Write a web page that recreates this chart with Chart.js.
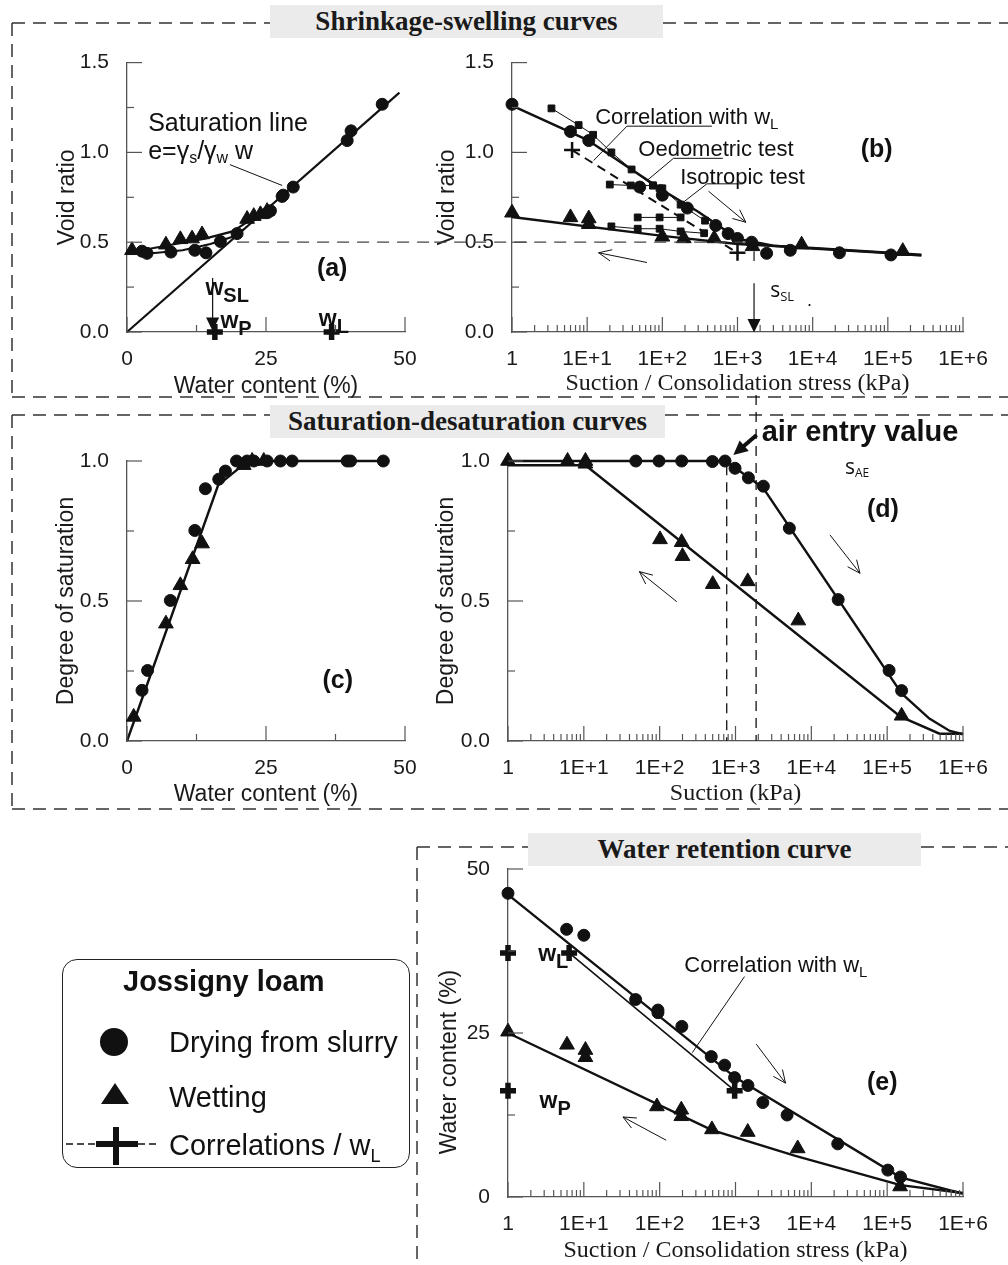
<!DOCTYPE html>
<html>
<head>
<meta charset="utf-8">
<title>Jossigny loam</title>
<script src="https://cdn.jsdelivr.net/npm/chart.js@4.4.0/dist/chart.umd.min.js"></script>
<style>
  body { margin: 0; background: #fff; }
  #page { position: relative; width: 1008px; height: 1265px; overflow: hidden;
          font-family: "Liberation Sans", Arial, sans-serif; color: #111; }
  #page canvas { position: absolute; }
  #deco { left: 0; top: 0; z-index: 0; }
  .plot { z-index: 1; }
  .ttl { position: absolute; z-index: 2; background: #ebebeb; color: #1a1a1a; text-align: center;
         font: bold 27px "Liberation Serif", "Times New Roman", serif; line-height: 33px; height: 33px; }
  #legend { position: absolute; left: 62px; top: 959px; width: 346px; height: 207px; z-index: 2;
            border: 1.5px solid #222; border-radius: 15px; background: #fff; }
  #legend .hd { position: absolute; left: 60px; top: 3px; font: bold 29px "Liberation Sans", Arial, sans-serif; line-height: 36px; }
  #legend .row { position: absolute; left: 106px; font-size: 29px; line-height: 34px; white-space: nowrap; }
  #legend sub { font-size: 18px; vertical-align: -7px; line-height: 0; }
  #legend svg { position: absolute; left: 0; top: 0; }
</style>
</head>
<body>
<div id="page">
  <canvas id="deco" width="1008" height="1265"></canvas>
  <canvas id="chartA" class="plot" width="430" height="360" style="left:0px;top:40px"></canvas>
  <canvas id="chartB" class="plot" width="578" height="360" style="left:430px;top:40px"></canvas>
  <canvas id="chartC" class="plot" width="430" height="388" style="left:0px;top:420px"></canvas>
  <canvas id="chartD" class="plot" width="578" height="418" style="left:430px;top:390px"></canvas>
  <canvas id="chartE" class="plot" width="588" height="420" style="left:420px;top:845px"></canvas>

  <div class="ttl" style="left:270px;top:5px;width:393px">Shrinkage-swelling curves</div>
  <div class="ttl" style="left:270px;top:405px;width:395px">Saturation-desaturation curves</div>
  <div class="ttl" style="left:528px;top:833px;width:393px">Water retention curve</div>

  <div id="legend">
    <svg width="105" height="207">
      <circle cx="51" cy="82" r="14" fill="#111"/>
      <polygon points="38,144 66,144 52,123" fill="#111"/>
      <line x1="3" y1="184" x2="33" y2="184" stroke="#111" stroke-width="1.5" stroke-dasharray="7,4"/>
      <line x1="75" y1="184" x2="95" y2="184" stroke="#111" stroke-width="1.5" stroke-dasharray="7,4"/>
      <rect x="33" y="181" width="42" height="6" fill="#111"/>
      <rect x="50" y="167" width="6" height="38" fill="#111"/>
    </svg>
    <div class="hd">Jossigny loam</div>
    <div class="row" style="top:65px">Drying from slurry</div>
    <div class="row" style="top:120px">Wetting</div>
    <div class="row" style="top:168px">Correlations / w<sub>L</sub></div>
  </div>
</div>

<script>
// ---- (a) void ratio against water content ----
const aDryW = [45.9, 40.3, 39.6, 29.9, 28.1, 27.9, 25.8, 25.3, 19.8, 16.8, 14.2, 12.2, 7.9, 3.6, 2.7];
const aDryE = [1.268, 1.12, 1.066, 0.807, 0.762, 0.755, 0.675, 0.665, 0.548, 0.504, 0.441, 0.455, 0.445, 0.438, 0.45];
const aWetW = [0.9, 7.0, 9.6, 11.7, 13.5, 21.6, 22.8, 24.0, 25.2];
const aWetE = [0.455, 0.486, 0.516, 0.52, 0.543, 0.629, 0.645, 0.655, 0.673];
const aSatW = [0, 49];
const aSatE = [0, 1.333];
const aDryFitW = [0, 5, 10, 15, 19, 21];
const aDryFitE = [0.44, 0.44, 0.455, 0.49, 0.53, 0.571];
const aWetFitW = [0, 7, 14, 19, 22, 25.5];
const aWetFitE = [0.44, 0.48, 0.52, 0.56, 0.62, 0.694];
const aLimitW = [15.8, 36.8];          // w_P, w_L
const aLimitE = [0, 0];
const aShrinkLimitW = 15.4;            // w_SL

// ---- (b) void ratio against suction / consolidation stress ----
const bDryS = [1, 6.0, 10.5, 50, 100, 215, 513, 751, 1000, 1540, 2440, 5040, 22700, 110000];
const bDryE = [1.268, 1.116, 1.066, 0.807, 0.762, 0.69, 0.593, 0.548, 0.521, 0.5, 0.438, 0.455, 0.441, 0.429];
const bWetS = [1, 6.0, 10.5, 10.5, 100, 193, 490, 1585, 7130, 158000];
const bWetE = [0.664, 0.638, 0.632, 0.60, 0.53, 0.521, 0.521, 0.477, 0.486, 0.45];
const bOedS = [3.35, 7.7, 12, 21, 39, 75, 100, 175, 370];
const bOedE = [1.245, 1.152, 1.098, 1.0, 0.905, 0.816, 0.8, 0.709, 0.62];
const bIsoS = [20, 38, 75, 92];
const bIsoE = [0.821, 0.816, 0.816, 0.8];
const bUnl1S = [47, 92, 175];
const bUnl1E = [0.638, 0.638, 0.638];
const bUnl2S = [21, 47, 92, 175, 360];
const bUnl2E = [0.588, 0.575, 0.575, 0.56, 0.55];
const bDryFitS = [1, 10, 100, 300, 1000, 3000, 10000, 100000, 280000];
const bDryFitE = [1.26, 1.07, 0.79, 0.67, 0.52, 0.48, 0.465, 0.44, 0.425];
const bWetFitS = [1, 100, 1000, 10000, 280000];
const bWetFitE = [0.64, 0.535, 0.49, 0.468, 0.43];
const bCorrS = [6.3, 1000];
const bCorrE = [1.013, 0.441];
const bShrinkLimitS = 1660;            // s_SL

// ---- (c) degree of saturation against water content ----
const cDryW = [2.7, 3.7, 7.8, 12.2, 14.1, 16.5, 17.7, 19.7, 21.6, 22.8, 25.2, 27.6, 29.7, 39.6, 40.2, 46.1];
const cDrySr = [0.181, 0.252, 0.502, 0.752, 0.901, 0.935, 0.964, 1, 1, 1, 1, 1, 1, 1, 1, 1];
const cWetW = [1.2, 7.0, 9.6, 11.8, 13.5, 21.0, 22.5, 24.6];
const cWetSr = [0.086, 0.419, 0.556, 0.649, 0.705, 0.985, 1.0, 1.0];
const cFitW = [0, 16.4, 20.5, 22, 46.1];
const cFitSr = [0, 0.914, 0.98, 1.0, 1.0];

// ---- (d) degree of saturation against suction ----
const dDryS = [48.5, 98, 195, 496, 728, 986, 1480, 2330, 5130, 22600, 106000, 155000];
const dDrySr = [1, 1, 1, 0.998, 1, 0.974, 0.94, 0.91, 0.76, 0.505, 0.252, 0.18];
const dWetS = [1, 6.1, 10.5, 10.5, 101, 195, 200, 501, 1450, 6730, 155000];
const dWetSr = [1, 1, 1, 0.99, 0.72, 0.71, 0.66, 0.56, 0.57, 0.43, 0.09];
const dDryFitS = [1, 750, 1000, 1500, 2300, 155000, 360000, 670000, 1000000];
const dDryFitSr = [1, 1, 0.975, 0.94, 0.905, 0.17, 0.08, 0.036, 0.024];
const dWetFitS = [1, 10.5, 150000, 490000, 1000000];
const dWetFitSr = [0.985, 0.985, 0.087, 0.026, 0.026];
const dAirEntryS = [766, 1870];

// ---- (e) water retention ----
const eDryS = [1, 5.93, 10, 48.2, 94.9, 94.9, 196, 479, 718, 972, 1459, 2293, 4790, 22300, 102000, 150000];
const eDryW = [46.3, 40.8, 39.9, 30.1, 28.5, 28.1, 26.0, 21.4, 20.1, 18.2, 17.0, 14.4, 12.5, 8.1, 4.1, 3.05];
const eWetS = [1, 6.0, 10.5, 10.5, 92, 193, 193, 489, 1450, 6610, 148000];
const eWetW = [25.2, 23.2, 22.4, 21.3, 13.8, 13.3, 12.3, 10.3, 9.9, 7.4, 1.6];
const eLimitS = [1, 6.4, 1, 975];
const eLimitW = [37.2, 37.2, 16.2, 16.2];
const eCorrS = [6.4, 975];
const eCorrW = [37.2, 16.2];
const eDryFitS = [1, 1000, 150000, 1000000];
const eDryFitW = [46.1, 18.2, 3.0, 0.5];
const eWetFitS = [1, 490, 6000, 150000, 1000000];
const eWetFitW = [25.0, 10.2, 6.3, 1.8, 0.6];

// ---- shared styling ----
const SANS = '"Liberation Sans", Arial, sans-serif';
const SERIF = '"Liberation Serif", "Times New Roman", serif';
const OPEN = '"Open Sans", "Liberation Sans", sans-serif';
const INK = '#111';
const AXIS = '#555';
Chart.defaults.font.family = SANS;
Chart.defaults.color = '#1a1a1a';

const decades = [1, 10, 100, 1000, 10000, 100000, 1000000];
const logMinor = [];
for (let d = 0; d < 6; d++) for (let k = 2; k <= 9; k++) logMinor.push(k * Math.pow(10, d));
const logLabel = v => { const p = Math.round(Math.log10(v)); return p === 0 ? '1' : '1E+' + p; };

const pts = (xs, ys) => xs.map((x, i) => ({ x, y: ys[i] }));

function dots(xs, ys, style, r, extra) {
  return Object.assign({
    data: pts(xs, ys), showLine: false, pointStyle: style, pointRadius: r,
    pointBackgroundColor: INK, pointBorderColor: INK, pointBorderWidth: 1, clip: false
  }, extra || {});
}
function curve(xs, ys, width, extra) {
  return Object.assign({
    data: pts(xs, ys), showLine: true, pointRadius: 0, borderColor: INK,
    borderWidth: width, tension: 0, clip: false
  }, extra || {});
}
const circles = (xs, ys) => dots(xs, ys, 'circle', 6);
const triangles = (xs, ys) => dots(xs, ys, 'triangle', 8.5);
const crosses = (xs, ys, w) => dots(xs, ys, 'cross', 8, { pointBorderWidth: w || 5.5 });
const squares = (xs, ys) => dots(xs, ys, 'rect', 4.8,
  { showLine: true, borderColor: INK, borderWidth: 1 });

function xAxis(o) {
  return {
    type: o.log ? 'logarithmic' : 'linear',
    min: o.range[0], max: o.range[1],
    grid: { display: false },
    border: { display: true, color: AXIS, width: 1.3 },
    ticks: { padding: 7, font: { size: 21 }, color: '#1a1a1a', autoSkip: false, maxRotation: 0,
             callback: o.log ? logLabel : (v => String(v)) },
    title: { display: true, text: o.title, color: '#1a1a1a',
             font: o.serif ? { family: SERIF, size: 24 } : { size: 23 },
             padding: { top: 0, bottom: o.tpad } },
    afterBuildTicks: s => { s.ticks = o.labels.map(value => ({ value })); },
    afterFit: s => { s.height = o.size; }
  };
}
function yAxis(o) {
  return {
    type: 'linear', min: o.range[0], max: o.range[1],
    grid: { display: false },
    border: { display: true, color: AXIS, width: 1.3 },
    ticks: { padding: 10, font: { size: 21 }, color: '#1a1a1a', autoSkip: false, callback: o.fmt },
    title: { display: o.tpad !== null, text: o.title, color: '#1a1a1a', font: { size: 23 },
             padding: { top: o.tpad || 0, bottom: 0 } },
    afterBuildTicks: s => { s.ticks = o.labels.map(value => ({ value })); },
    afterFit: s => { s.width = o.size; }
  };
}

// short tick marks pointing into the plot
function inwardTicks(xMajor, xMinor, yMajor, yMinor) {
  return {
    id: 'inwardTicks',
    afterDraw(chart) {
      const { ctx, chartArea: a, scales: { x, y } } = chart;
      ctx.save();
      ctx.strokeStyle = AXIS; ctx.lineWidth = 1.2;
      const seg = (x1, y1, x2, y2) => { ctx.beginPath(); ctx.moveTo(x1, y1); ctx.lineTo(x2, y2); ctx.stroke(); };
      xMajor.forEach(v => { const p = x.getPixelForValue(v); seg(p, a.bottom, p, a.bottom - 15); });
      xMinor.forEach(v => { const p = x.getPixelForValue(v); seg(p, a.bottom, p, a.bottom - 7); });
      yMajor.forEach(v => { const p = y.getPixelForValue(v); seg(a.left, p, a.left + 15, p); });
      yMinor.forEach(v => { const p = y.getPixelForValue(v); seg(a.left, p, a.left + 7, p); });
      ctx.restore();
    }
  };
}

// vertical axis title set lower than the middle of the axis
function lowTitle(text, dx, drop) {
  return {
    id: 'lowTitle',
    afterDraw(chart) {
      const { ctx, chartArea: a } = chart;
      ctx.save();
      ctx.translate(dx, (a.top + a.bottom) / 2 + drop);
      ctx.rotate(-Math.PI / 2);
      ctx.font = '23px ' + SANS;
      ctx.fillStyle = '#1a1a1a';
      ctx.textAlign = 'center'; ctx.textBaseline = 'middle';
      ctx.fillText(text, 0, 0);
      ctx.restore();
    }
  };
}

// text runs: [text, size, dy, bold, family]
function drawRuns(ctx, x, y, runs, align) {
  const font = r => (r[3] ? 'bold ' : '') + r[1] + 'px ' + (r[4] || SANS);
  let total = 0;
  const widths = runs.map(r => { ctx.font = font(r); const w = ctx.measureText(r[0]).width; total += w; return w; });
  let cx = align === 'center' ? x - total / 2 : x;
  ctx.textAlign = 'left'; ctx.textBaseline = 'middle';
  runs.forEach((r, i) => { ctx.font = font(r); ctx.fillText(r[0], cx, y + (r[2] || 0)); cx += widths[i]; });
}

function drawArrow(ctx, p0, p1, head, size) {
  const ang = Math.atan2(p1[1] - p0[1], p1[0] - p0[0]);
  const spread = head === 'fill' ? 0.45 : 0.42;
  const tip = head === 'fill' ? [p1[0] - size * 0.8 * Math.cos(ang), p1[1] - size * 0.8 * Math.sin(ang)] : p1;
  ctx.beginPath(); ctx.moveTo(p0[0], p0[1]); ctx.lineTo(tip[0], tip[1]); ctx.stroke();
  ctx.setLineDash([]);
  ctx.beginPath();
  ctx.moveTo(p1[0] - size * Math.cos(ang - spread), p1[1] - size * Math.sin(ang - spread));
  ctx.lineTo(p1[0], p1[1]);
  ctx.lineTo(p1[0] - size * Math.cos(ang + spread), p1[1] - size * Math.sin(ang + spread));
  if (head === 'fill') { ctx.closePath(); ctx.fill(); } else ctx.stroke();
}

// labels, leader lines and arrows placed in data coordinates
function notes(items) {
  return {
    id: 'notes',
    afterDraw(chart) {
      const { ctx, scales: { x, y } } = chart;
      const px = p => [x.getPixelForValue(p[0]), y.getPixelForValue(p[1])];
      ctx.save();
      ctx.fillStyle = INK;
      items.forEach(it => {
        ctx.strokeStyle = it.color || INK;
        ctx.lineWidth = it.width || 1;
        ctx.setLineDash(it.dash || []);
        if (it.text) { const p = px(it.at); drawRuns(ctx, p[0], p[1], it.text, it.align); }
        if (it.path) {
          ctx.beginPath();
          it.path.map(px).forEach((p, i) => i ? ctx.lineTo(p[0], p[1]) : ctx.moveTo(p[0], p[1]));
          ctx.stroke();
        }
        if (it.arrow) drawArrow(ctx, px(it.arrow[0]), px(it.arrow[1]), it.head, it.size || 13);
      });
      ctx.restore();
    }
  };
}

function panel(id, pad, scales, datasets, plugins) {
  return new Chart(document.getElementById(id), {
    type: 'scatter',
    data: { datasets },
    options: {
      responsive: false, animation: false, events: [],
      layout: { padding: { left: 0, bottom: 0, top: pad[0], right: pad[1] } },
      plugins: { legend: { display: false }, tooltip: { enabled: false } },
      scales
    },
    plugins
  });
}

const sub = (t, s) => [t, s || 18, 8, true];
const dash05 = { dash: [12, 8], color: '#444', width: 1.2 };

// (a)
panel('chartA', [12, 25], {
  x: xAxis({ range: [0, 50], labels: [0, 25, 50], title: 'Water content (%)', size: 68, tpad: 0 }),
  y: yAxis({ range: [0, 1.5], labels: [0, 0.5, 1, 1.5], fmt: v => v.toFixed(1), title: 'Void ratio', size: 127, tpad: 54 })
}, [
  crosses(aLimitW, aLimitE),
  circles(aDryW, aDryE),
  triangles(aWetW, aWetE),
  curve(aSatW, aSatE, 2.2),
  curve(aDryFitW, aDryFitE, 2.2),
  curve(aWetFitW, aWetFitE, 2.2)
], [
  inwardTicks([0, 25, 50], [12.5, 37.5], [0, 0.5, 1, 1.5], [0.25, 0.75, 1.25]),
  notes([
    Object.assign({ path: [[19.8, 0.5], [60, 0.5]] }, dash05),
    { text: [['Saturation line', 25]], at: [3.8, 1.155] },
    { text: [['e=γ', 25], ['s', 16, 6], ['/γ', 25], ['w', 16, 6], [' w', 25]], at: [3.8, 1.0] },
    { path: [[18.5, 0.932], [27.9, 0.816]] },
    { text: [['(a)', 25, 0, true]], at: [36.9, 0.351], align: 'center' },
    { arrow: [[aShrinkLimitW, 0.3], [aShrinkLimitW, 0.005]], head: 'fill', size: 15, width: 1.2 },
    { text: [['w', 23, 0, true], sub('SL', 20)], at: [14.1, 0.24] },
    { text: [['w', 23, 0, true], sub('P', 20)], at: [16.8, 0.06] },
    { text: [['w', 23, 0, true], sub('L', 20)], at: [34.5, 0.07] }
  ])
]);

// (b)
panel('chartB', [12, 45], {
  x: xAxis({ log: true, range: [1, 1000000], labels: decades, title: 'Suction / Consolidation stress (kPa)', serif: true, size: 68, tpad: 2 }),
  y: yAxis({ range: [0, 1.5], labels: [0, 0.5, 1, 1.5], fmt: v => v.toFixed(1), title: 'Void ratio', size: 82, tpad: 4 })
}, [
  crosses(bCorrS, bCorrE, 2.5),
  circles(bDryS, bDryE),
  triangles(bWetS, bWetE),
  squares(bOedS, bOedE),
  squares(bIsoS, bIsoE),
  squares(bUnl1S, bUnl1E),
  squares(bUnl2S, bUnl2E),
  curve(bCorrS, bCorrE, 2, { borderDash: [9, 6] }),
  curve(bDryFitS, bDryFitE, 2.4),
  curve(bWetFitS, bWetFitE, 2.4)
], [
  inwardTicks(decades, logMinor, [0, 0.5, 1, 1.5], [0.25, 0.75, 1.25]),
  notes([
    Object.assign({ path: [[0.05, 0.5], [bShrinkLimitS, 0.5]] }, dash05),
    { text: [['Correlation with w', 22], ['L', 15, 7]], at: [12.8, 1.19] },
    { path: [[12.2, 0.955], [33.8, 1.146], [456, 1.146]] },
    { text: [['Oedometric test', 22]], at: [47.9, 1.014] },
    { path: [[62.4, 0.843], [140.6, 0.967], [638, 0.967]] },
    { text: [['Isotropic test', 22]], at: [172.7, 0.86] },
    { path: [[172.7, 0.709], [392, 0.825], [1190, 0.825]] },
    { text: [['(b)', 25, 0, true]], at: [71000, 1.012], align: 'center' },
    { arrow: [[411, 0.784], [1290, 0.611]], head: 'open', size: 14 },
    { arrow: [[62.4, 0.387], [14.2, 0.441]], head: 'open', size: 14 },
    { path: [[bShrinkLimitS, 0.45], [bShrinkLimitS, 0.396]], width: 1.2 },
    { arrow: [[bShrinkLimitS, 0.271], [bShrinkLimitS, -0.003]], head: 'fill', size: 15, width: 1.2 },
    { text: [['s', 21, 0, false, OPEN], ['SL', 13, 6, false, OPEN]], at: [2717, 0.227] },
    { text: [['.', 18]], at: [8400, 0.17] }
  ])
]);

// (c)
panel('chartC', [41, 25], {
  x: xAxis({ range: [0, 50], labels: [0, 25, 50], title: 'Water content (%)', size: 67, tpad: 0 }),
  y: yAxis({ range: [0, 1], labels: [0, 0.5, 1], fmt: v => v.toFixed(1), title: 'Degree of saturation', size: 127, tpad: 53 })
}, [
  circles(cDryW, cDrySr),
  triangles(cWetW, cWetSr),
  curve(cFitW, cFitSr, 2.4)
], [
  inwardTicks([0, 25, 50], [12.5, 37.5], [0, 0.5, 1], [0.25, 0.75]),
  notes([
    { text: [['(c)', 25, 0, true]], at: [37.9, 0.213], align: 'center' }
  ])
]);

// (d)
panel('chartD', [71, 45], {
  x: xAxis({ log: true, range: [1, 1000000], labels: decades, title: 'Suction (kPa)', serif: true, size: 67, tpad: 0 }),
  y: yAxis({ range: [0, 1], labels: [0, 0.5, 1], fmt: v => v.toFixed(1), title: 'Degree of saturation', size: 78, tpad: 3 })
}, [
  circles(dDryS, dDrySr),
  triangles(dWetS, dWetSr),
  curve(dDryFitS, dDryFitSr, 2.4),
  curve(dWetFitS, dWetFitSr, 2.4)
], [
  inwardTicks(decades, logMinor, [0, 0.5, 1], [0.25, 0.75]),
  notes([
    { path: [[dAirEntryS[0], 0.985], [dAirEntryS[0], 0]], dash: [10, 7], width: 1.3 },
    { path: [[dAirEntryS[1], 1.236], [dAirEntryS[1], 0]], dash: [10, 7], width: 1.3 },
    { text: [['air entry value', 29, 0, true]], at: [2213, 1.1] },
    { arrow: [[1900, 1.093], [935, 1.021]], head: 'fill', size: 16, width: 4 },
    { text: [['s', 21, 0, false, OPEN], ['AE', 12, 6, false, OPEN]], at: [27700, 0.975] },
    { text: [['(d)', 25, 0, true]], at: [87900, 0.825], align: 'center' },
    { arrow: [[17600, 0.736], [43800, 0.599]], head: 'open', size: 14 },
    { arrow: [[168, 0.4975], [54, 0.605]], head: 'open', size: 14 }
  ])
]);

// (e)
panel('chartE', [24, 45], {
  x: xAxis({ log: true, range: [1, 1000000], labels: decades, title: 'Suction / Consolidation stress (kPa)', serif: true, size: 68, tpad: 0 }),
  y: yAxis({ range: [0, 50], labels: [0, 25, 50], fmt: v => String(v), title: 'Water content (%)', size: 88, tpad: null })
}, [
  crosses(eLimitS, eLimitW),
  circles(eDryS, eDryW),
  triangles(eWetS, eWetW),
  curve(eCorrS, eCorrW, 1.6),
  curve(eDryFitS, eDryFitW, 2.4),
  curve(eWetFitS, eWetFitW, 2.4)
], [
  inwardTicks(decades, logMinor, [0, 25, 50], [12.5, 37.5]),
  lowTitle('Water content (%)', 30, 29),
  notes([
    { text: [['Correlation with w', 22], ['L', 15, 7]], at: [211, 35.2] },
    { path: [[1316, 33.6], [269, 22.0]] },
    { text: [['(e)', 25, 0, true]], at: [86000, 17.35], align: 'center' },
    { arrow: [[1880, 23.3], [4570, 17.35]], head: 'open', size: 14 },
    { arrow: [[122, 8.65], [32.8, 12.2]], head: 'open', size: 14 },
    { text: [['w', 23, 0, true], sub('L', 20)], at: [2.5, 36.9] },
    { text: [['w', 23, 0, true], sub('P', 20)], at: [2.61, 14.5] }
  ])
]);

// dashed frames around the three groups of panels
(function drawFrames() {
  const ctx = document.getElementById('deco').getContext('2d');
  ctx.strokeStyle = '#333';
  ctx.lineWidth = 1.5;
  ctx.setLineDash([13, 8]);
  [
    [12, 23, 270, 23], [663, 23, 1008, 23], [12, 23, 12, 397], [12, 397, 1008, 397],
    [12, 415, 270, 415], [665, 415, 1008, 415], [12, 415, 12, 809], [12, 809, 1008, 809],
    [417, 847, 528, 847], [921, 847, 1008, 847], [417, 847, 417, 1265]
  ].forEach(([x1, y1, x2, y2]) => {
    ctx.beginPath(); ctx.moveTo(x1, y1); ctx.lineTo(x2, y2); ctx.stroke();
  });
})();
</script>
</body>
</html>
